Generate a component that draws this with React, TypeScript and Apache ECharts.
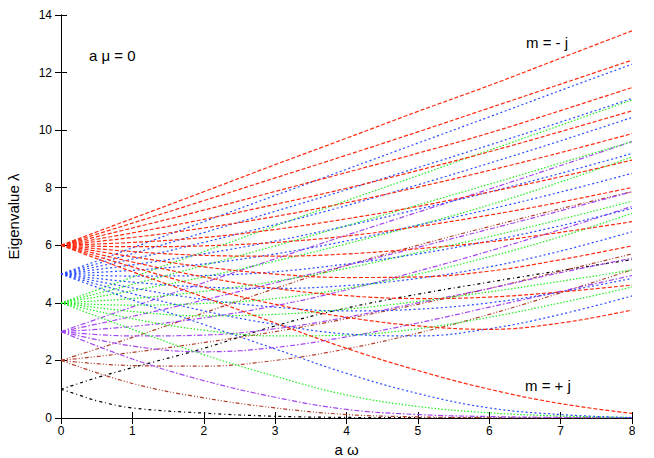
import React, { useEffect, useRef } from "react";
import * as echarts from "echarts";

// a*omega sample grid
const AW = [0, 1, 2, 3, 4, 5, 6, 7, 8];
const AW_FINE = [0, 0.25, 0.5, 1, 2, 3, 4, 5, 6, 7, 8];

// kappa = 6 (j = 11/2), m = -11/2 ... +11/2
const RED = [
  [6, 6.93, 7.86, 8.8, 9.72, 10.65, 11.55, 12.5, 13.45],
  [6, 6.77, 7.55, 8.34, 9.13, 9.94, 10.77, 11.6, 12.43],
  [6, 6.6, 7.22, 7.87, 8.53, 9.2, 9.9, 10.68, 11.48],
  [6, 6.43, 6.9, 7.42, 7.98, 8.6, 9.25, 9.95, 10.67],
  [6, 6.27, 6.6, 7.0, 7.48, 8.02, 8.6, 9.22, 9.88],
  [6, 6.1, 6.27, 6.55, 6.92, 7.35, 7.85, 8.38, 8.96],
  [6, 5.95, 5.98, 6.1, 6.32, 6.65, 7.05, 7.5, 8.01],
  [6, 5.78, 5.65, 5.62, 5.7, 5.88, 6.12, 6.45, 6.82],
  [6, 5.6, 5.25, 5.0, 4.88, 4.9, 5.1, 5.5, 5.98],
  [6, 5.42, 4.9, 4.5, 4.25, 4.15, 4.2, 4.38, 4.62],
  [6, 5.25, 4.55, 3.95, 3.5, 3.2, 3.08, 3.3, 3.75],
  [6, 5.08, 4.2, 3.3, 2.42, 1.65, 1.0, 0.5, 0.16],
];

// kappa = 5 (j = 9/2)
const BLUE = [
  [5, 5.91, 6.82, 7.73, 8.64, 9.55, 10.46, 11.38, 12.29],
  [5, 5.71, 6.44, 7.18, 7.93, 8.7, 9.48, 10.28, 11.1],
  [5, 5.52, 6.1, 6.72, 7.38, 8.1, 8.85, 9.63, 10.44],
  [5, 5.32, 5.7, 6.15, 6.67, 7.25, 7.85, 8.5, 9.19],
  [5, 5.13, 5.35, 5.7, 6.15, 6.7, 7.25, 7.85, 8.5],
  [5, 4.93, 4.95, 5.08, 5.35, 5.7, 6.15, 6.68, 7.28],
  [5, 4.72, 4.55, 4.5, 4.6, 4.85, 5.25, 5.8, 6.47],
  [5, 4.52, 4.12, 3.85, 3.72, 3.78, 4.0, 4.38, 4.85],
  [5, 4.32, 3.72, 3.25, 2.92, 2.85, 3.1, 3.6, 4.24],
  [5, 4.1, 3.25, 2.4, 1.55, 0.85, 0.35, 0.12, 0.01],
];

// kappa = 4 (j = 7/2)
const GREEN = [
  [4, 4.89, 5.78, 6.67, 7.55, 8.42, 9.3, 10.17, 11.05],
  [4, 4.64, 5.3, 5.98, 6.68, 7.4, 8.12, 8.86, 9.6],
  [4, 4.42, 4.9, 5.45, 6.05, 6.7, 7.4, 8.2, 9.07],
  [4, 4.15, 4.4, 4.75, 5.2, 5.75, 6.3, 6.9, 7.53],
  [4, 3.92, 3.98, 4.15, 4.5, 5.0, 5.6, 6.3, 7.11],
  [4, 3.7, 3.55, 3.6, 3.78, 4.05, 4.38, 4.75, 5.14],
  [4, 3.45, 3.05, 2.85, 2.88, 3.1, 3.5, 4.0, 4.55],
  [4, 3.08, 2.2, 1.45, 0.8, 0.4, 0.18, 0.07, 0.02],
];

// kappa = 3 (j = 5/2)
const PURPLE = [
  [3, 3.86, 4.7, 5.53, 6.35, 7.15, 7.95, 8.77, 9.6],
  [3, 3.53, 4.1, 4.7, 5.3, 5.93, 6.56, 7.2, 7.86],
  [3, 3.18, 3.48, 3.9, 4.45, 5.1, 5.8, 6.55, 7.35],
  [3, 2.85, 2.88, 3.1, 3.5, 4.0, 4.5, 5.05, 5.55],
  [3, 2.5, 2.3, 2.45, 2.82, 3.3, 3.85, 4.4, 4.95],
  [3, 2.05, 1.3, 0.72, 0.3, 0.12, 0.05, 0.02, 0.01],
];

// kappa = 2 (j = 3/2)
const BROWN = [
  [2, 2.8, 3.65, 4.5, 5.3, 6.0, 6.65, 7.27, 7.86],
  [2, 2.28, 2.62, 3.0, 3.45, 3.95, 4.5, 5.1, 5.7],
  [2, 1.82, 1.8, 2.0, 2.4, 2.95, 3.6, 4.35, 5.15],
  [2, 1.2, 0.7, 0.35, 0.12, 0.04, 0.01, 0, 0],
];

// kappa = 1 (j = 1/2), on the fine grid
const BLACK = [
  [1, 1.2, 1.4, 1.75, 2.42, 3.2, 3.82, 4.3, 4.72, 5.12, 5.5],
  [1, 0.8, 0.6, 0.35, 0.17, 0.06, 0.02, 0.01, 0, 0, 0],
];

const X_TITLE = "a ω";
const Y_TITLE = "Eigenvalue λ";
const NOTE_MU = "a μ = 0";
const NOTE_TOP = "m = - j";
const NOTE_BOTTOM = "m = + j";

const GROUPS = [
  { rows: BLACK, xs: AW_FINE, color: "#000000", dash: [3, 3, 1, 3] },
  { rows: BROWN, xs: AW, color: "#b0402c", dash: [4, 2, 1, 2, 1, 2] },
  { rows: PURPLE, xs: AW, color: "#a347f0", dash: [5, 2, 1.5, 2] },
  { rows: GREEN, xs: AW, color: "#22ee22", dash: [1.5, 1.8] },
  { rows: BLUE, xs: AW, color: "#2a4cff", dash: [2, 2.5] },
  { rows: RED, xs: AW, color: "#ff2a10", dash: [4, 2] },
];

const FONT = "Liberation Sans, Arial, sans-serif";

export default function App() {
  const ref = useRef<HTMLDivElement>(null);
  useEffect(() => {
    document.body.style.margin = "0";
    if (!ref.current) return;
    const chart = echarts.init(ref.current, undefined, { renderer: "svg" });
    const series: any[] = [];
    GROUPS.forEach((g) => {
      g.rows.forEach((row) => {
        series.push({
          type: "line",
          xAxisIndex: 0,
          yAxisIndex: 0,
          data: g.xs.map((x, i) => [x, row[i]]),
          showSymbol: false,
          smooth: 0.4,
          lineStyle: { color: g.color, width: 1.2, type: g.dash },
          silent: true,
        });
      });
    });
    const tickStyle = { inside: true, length: 6, lineStyle: { color: "#000", width: 1 } };
    const lineStyle = { lineStyle: { color: "#000", width: 1 } };
    chart.setOption({
      animation: false,
      backgroundColor: "#ffffff",
      grid: {
        left: 61,
        right: 22,
        top: 15,
        bottom: 40,
        containLabel: false,
        outerBoundsMode: "none",
      },
      xAxis: [
        {
          type: "value",
          min: 0,
          max: 8,
          interval: 1,
          position: "bottom",
          axisLine: { show: true, ...lineStyle },
          axisTick: tickStyle,
          splitLine: { show: false },
          axisLabel: { color: "#000", fontSize: 12, fontFamily: FONT, margin: 7 },
          name: X_TITLE,
          nameLocation: "middle",
          nameGap: 15,
          nameTextStyle: { color: "#000", fontSize: 15, fontFamily: FONT },
        },
        {
          type: "value",
          min: 0,
          max: 8,
          interval: 1,
          position: "top",
          axisLine: { show: true, ...lineStyle },
          axisTick: tickStyle,
          splitLine: { show: false },
          axisLabel: { show: false },
        },
      ],
      yAxis: [
        {
          type: "value",
          min: 0,
          max: 14,
          interval: 2,
          position: "left",
          axisLine: { show: true, ...lineStyle },
          axisTick: tickStyle,
          splitLine: { show: false },
          axisLabel: { color: "#000", fontSize: 12, fontFamily: FONT, margin: 9 },
          name: Y_TITLE,
          nameLocation: "middle",
          nameGap: 40,
          nameTextStyle: { color: "#000", fontSize: 15, fontFamily: FONT },
        },
        {
          type: "value",
          min: 0,
          max: 14,
          interval: 2,
          position: "right",
          axisLine: { show: true, ...lineStyle },
          axisTick: tickStyle,
          splitLine: { show: false },
          axisLabel: { show: false },
        },
      ],
      series,
      graphic: [
        {
          type: "text",
          left: 89,
          top: 48,
          style: { text: NOTE_MU, fill: "#000", font: `15px ${FONT}` },
        },
        {
          type: "text",
          left: 526,
          top: 35,
          style: { text: NOTE_TOP, fill: "#000", font: `15px ${FONT}` },
        },
        {
          type: "text",
          left: 525,
          top: 378,
          style: { text: NOTE_BOTTOM, fill: "#000", font: `15px ${FONT}` },
        },
      ],
    });
    return () => chart.dispose();
  }, []);
  return <div ref={ref} style={{ width: 654, height: 458 }} />;
}
